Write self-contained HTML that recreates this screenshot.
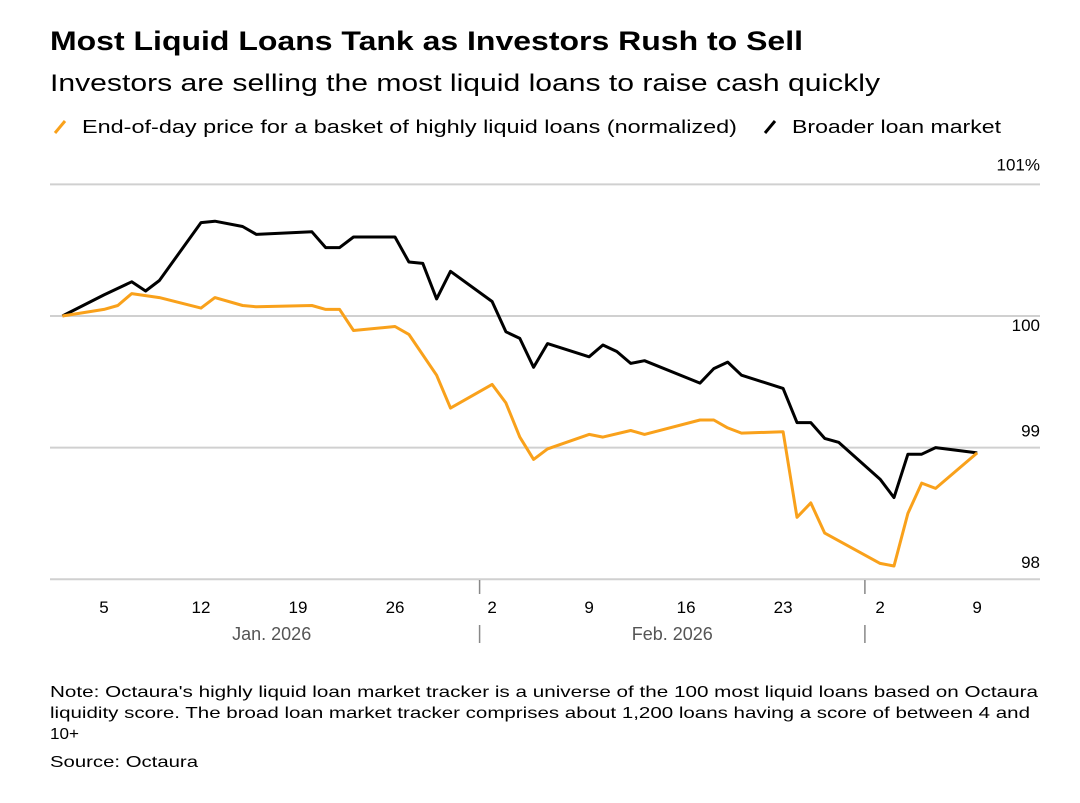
<!DOCTYPE html>
<html><head><meta charset="utf-8"><style>
body{margin:0;background:#fff;width:1080px;height:803px;overflow:hidden;font-family:"Liberation Sans",Arial,sans-serif;color:#000}
</style></head><body>
<svg width="1080" height="803" style="position:absolute;left:0;top:0">
<text x="50" y="50" font-size="27" font-weight="bold" textLength="753" lengthAdjust="spacingAndGlyphs">Most Liquid Loans Tank as Investors Rush to Sell</text>
<text x="50" y="91" font-size="24" textLength="830" lengthAdjust="spacingAndGlyphs">Investors are selling the most liquid loans to raise cash quickly</text>
<g>
<line x1="55" y1="133" x2="65" y2="121" stroke="#f9a11b" stroke-width="3"/>
<text x="82" y="133" font-size="18" textLength="655" lengthAdjust="spacingAndGlyphs">End-of-day price for a basket of highly liquid loans (normalized)</text>
<line x1="765" y1="133" x2="775" y2="121" stroke="#000" stroke-width="3"/>
<text x="792" y="133" font-size="18" textLength="209" lengthAdjust="spacingAndGlyphs">Broader loan market</text>
</g>
<g id="grid"></g><g id="lines"></g><g id="axis"></g>
<text x="50" y="697" font-size="16" textLength="988" lengthAdjust="spacingAndGlyphs">Note: Octaura's highly liquid loan market tracker is a universe of the 100 most liquid loans based on Octaura</text>
<text x="50" y="718" font-size="16" textLength="980" lengthAdjust="spacingAndGlyphs">liquidity score. The broad loan market tracker comprises about 1,200 loans having a score of between 4 and</text>
<text x="50" y="739" font-size="16" textLength="29" lengthAdjust="spacingAndGlyphs">10+</text>
<text x="50" y="767" font-size="16" textLength="148" lengthAdjust="spacingAndGlyphs">Source: Octaura</text>
</svg>
<script>
const broadDays=[0,3,5,6,7,10,11,13,14,18,19,20,21,24,25,26,27,28,31,32,33,34,35,38,39,40,41,42,46,47,48,49,52,53,54,55,56,59,60,61,62,63,66];
const broadVals=[100,100.16,100.26,100.19,100.27,100.71,100.72,100.68,100.62,100.64,100.52,100.52,100.6,100.6,100.41,100.4,100.13,100.34,100.11,99.88,99.83,99.61,99.79,99.69,99.78,99.73,99.64,99.66,99.49,99.6,99.65,99.55,99.45,99.19,99.19,99.07,99.04,98.76,98.62,98.95,98.95,99.0,98.96];
const liqDays=[0,3,4,5,7,10,11,13,14,18,19,20,21,24,25,27,28,31,32,33,34,35,38,39,41,42,46,47,48,49,52,53,54,55,59,60,61,62,63,66];
const liqVals=[100,100.05,100.08,100.17,100.14,100.06,100.14,100.08,100.07,100.08,100.05,100.05,99.89,99.92,99.86,99.55,99.3,99.48,99.34,99.08,98.91,98.99,99.1,99.08,99.13,99.1,99.21,99.21,99.15,99.11,99.12,98.47,98.58,98.35,98.12,98.1,98.5,98.73,98.69,98.96];
const yTicks=[101,100,99,98];
const yTickLabels=["101%","100","99","98"];
const xTickDays=[3,10,17,24,31,38,45,52,59,66];
const xTickLabels=["5","12","19","26","2","9","16","23","2","9"];
const monthLabels=["Jan. 2026","Feb. 2026"];
const monthLabelDays=[15.1,44];
const monthBoundDays=[30.1,57.9];
const X=d=>62.4+d*13.86, Y=v=>316-(v-100)*131.6;
const NS="http://www.w3.org/2000/svg";
function mk(tag,attrs,parent,txt){const e=document.createElementNS(NS,tag);for(const k in attrs)e.setAttribute(k,attrs[k]);if(txt!=null)e.textContent=txt;document.getElementById(parent).appendChild(e);return e;}
yTicks.forEach((v,i)=>{
 const l=mk('line',{x1:50,x2:1040,y1:Y(v),y2:Y(v),stroke:'#d0d0d0','stroke-width':2},'grid');
 
 
 const t=mk('text',{x:1040,y:Y(v)+(i==0?-14:i==1?15:-11),'font-size':17,'text-anchor':'end'},'grid',yTickLabels[i]);
 
 
});
function path(days,vals){return days.map((d,i)=>(i?'L':'M')+X(d).toFixed(1)+','+Y(vals[i]).toFixed(1)).join('');}
const lb=mk('path',{d:path(broadDays,broadVals),fill:'none',stroke:'#000','stroke-width':3,'stroke-linejoin':'round'},'lines');


const ll=mk('path',{d:path(liqDays,liqVals),fill:'none',stroke:'#f9a11b','stroke-width':3,'stroke-linejoin':'round'},'lines');


xTickDays.forEach((d,i)=>{
 const t=mk('text',{x:X(d),y:613,'font-size':17,'text-anchor':'middle'},'axis',xTickLabels[i]);
 
 
});
monthBoundDays.forEach(d=>{
 const a=mk('line',{x1:X(d),x2:X(d),y1:580,y2:594,stroke:'#888','stroke-width':1.5},'axis');
 
 
 const b=mk('line',{x1:X(d),x2:X(d),y1:625,y2:643,stroke:'#888','stroke-width':1.5},'axis');
 
 
});
monthLabels.forEach((m,i)=>{
 const t=mk('text',{x:X(monthLabelDays[i]),y:640,'font-size':18,fill:'#555','text-anchor':'middle'},'axis',m);
 
 
});
</script>
</body></html>
